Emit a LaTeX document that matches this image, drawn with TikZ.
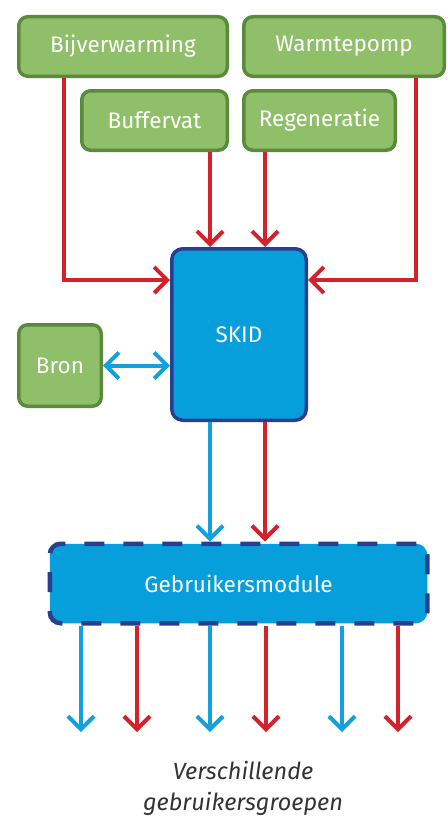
\documentclass[tikz,border=0pt]{standalone}
\usepackage{fontspec}
\setmainfont{Fira Sans}
\usetikzlibrary{positioning,arrows.meta}
\definecolor{gfill}{HTML}{8FBF68}
\definecolor{gline}{HTML}{5A8A3C}
\definecolor{bfill}{HTML}{079FDB}
\definecolor{bline}{HTML}{283F8E}
\definecolor{hot}{HTML}{D3222A}
\definecolor{cold}{HTML}{14A0DC}

\begin{document}
\begin{tikzpicture}[
  x=1pt, y=-1pt,
  greenbox/.style={draw=gline,fill=gfill,line width=3.5pt,rounded corners=9pt,
    text=white,inner sep=0pt,font=\fontsize{22.5}{26}\selectfont},
  bluebox/.style={draw=bline,fill=bfill,line width=3.5pt,rounded corners=11pt,
    text=white,inner sep=0pt,font=\fontsize{22.5}{26}\selectfont},
  barb/.tip={Straight Barb[length=13pt,width=26pt]},
  hotline/.style={draw=hot,line width=4pt,-barb},
  coldline/.style={draw=cold,line width=4pt,-barb}
    ]
\useasboundingbox (0,0) rectangle (447,816);

\node[greenbox,minimum width=208.5,minimum height=59.5] (bv) at (123,46.5) {Bijverwarming};
\node[greenbox,minimum width=200.5,minimum height=59.5] (wp) at (344,46.5) {Warmtepomp};
\node[greenbox,minimum width=145.5,minimum height=59.5] (bf) at (154.5,120.5) {Buffervat};
\node[greenbox,minimum width=151.5,minimum height=59.5] (rg) at (319.5,120.5) {Regeneratie};
\node[bluebox,minimum width=134.5,minimum height=171.5] (skid) at (239,334.5) {SKID};
\node[greenbox,minimum width=82.5,minimum height=81.5] (bron) at (60,365.5) {Bron};
\node[bluebox,line width=4.5pt,dash pattern=on 20pt off 19pt,minimum width=377.5,minimum height=79.5] (gm) at (238.5,583.5) {Gebruikersmodule};
\node[align=center,text=black!80,font=\fontsize{23.5}{31}\selectfont\itshape] (vg) at (243,788) {Verschillende\\gebruikersgroepen};

\draw[hotline] ([xshift=-59pt]bv.south) |- ([yshift=54.5pt]skid.west);
\draw[hotline] ([xshift=72pt]wp.south) |- ([yshift=54.5pt]skid.east);
\draw[hotline] ([xshift=55.5pt]bf.south) -- ([xshift=-29pt]skid.north);
\draw[hotline] ([xshift=-54.5pt]rg.south) -- ([xshift=26pt]skid.north);
\draw[coldline,barb-barb] (bron.east) -- (bron.east -| skid.west);
\draw[coldline] ([xshift=-29pt]skid.south) -- ([xshift=-29pt]skid.south |- gm.north);
\draw[hotline] ([xshift=26pt]skid.south) -- ([xshift=26pt]skid.south |- gm.north);

% uitgaande leidingen
\foreach \x/\c [count=\i] in {81/cold,137/hot,210/cold,266/hot,342/cold,398/hot}{
  \coordinate (g\i) at (\x,732);
  \draw[\c line] (gm.south -| g\i) -- (g\i);
}
\end{tikzpicture}
\end{document}
